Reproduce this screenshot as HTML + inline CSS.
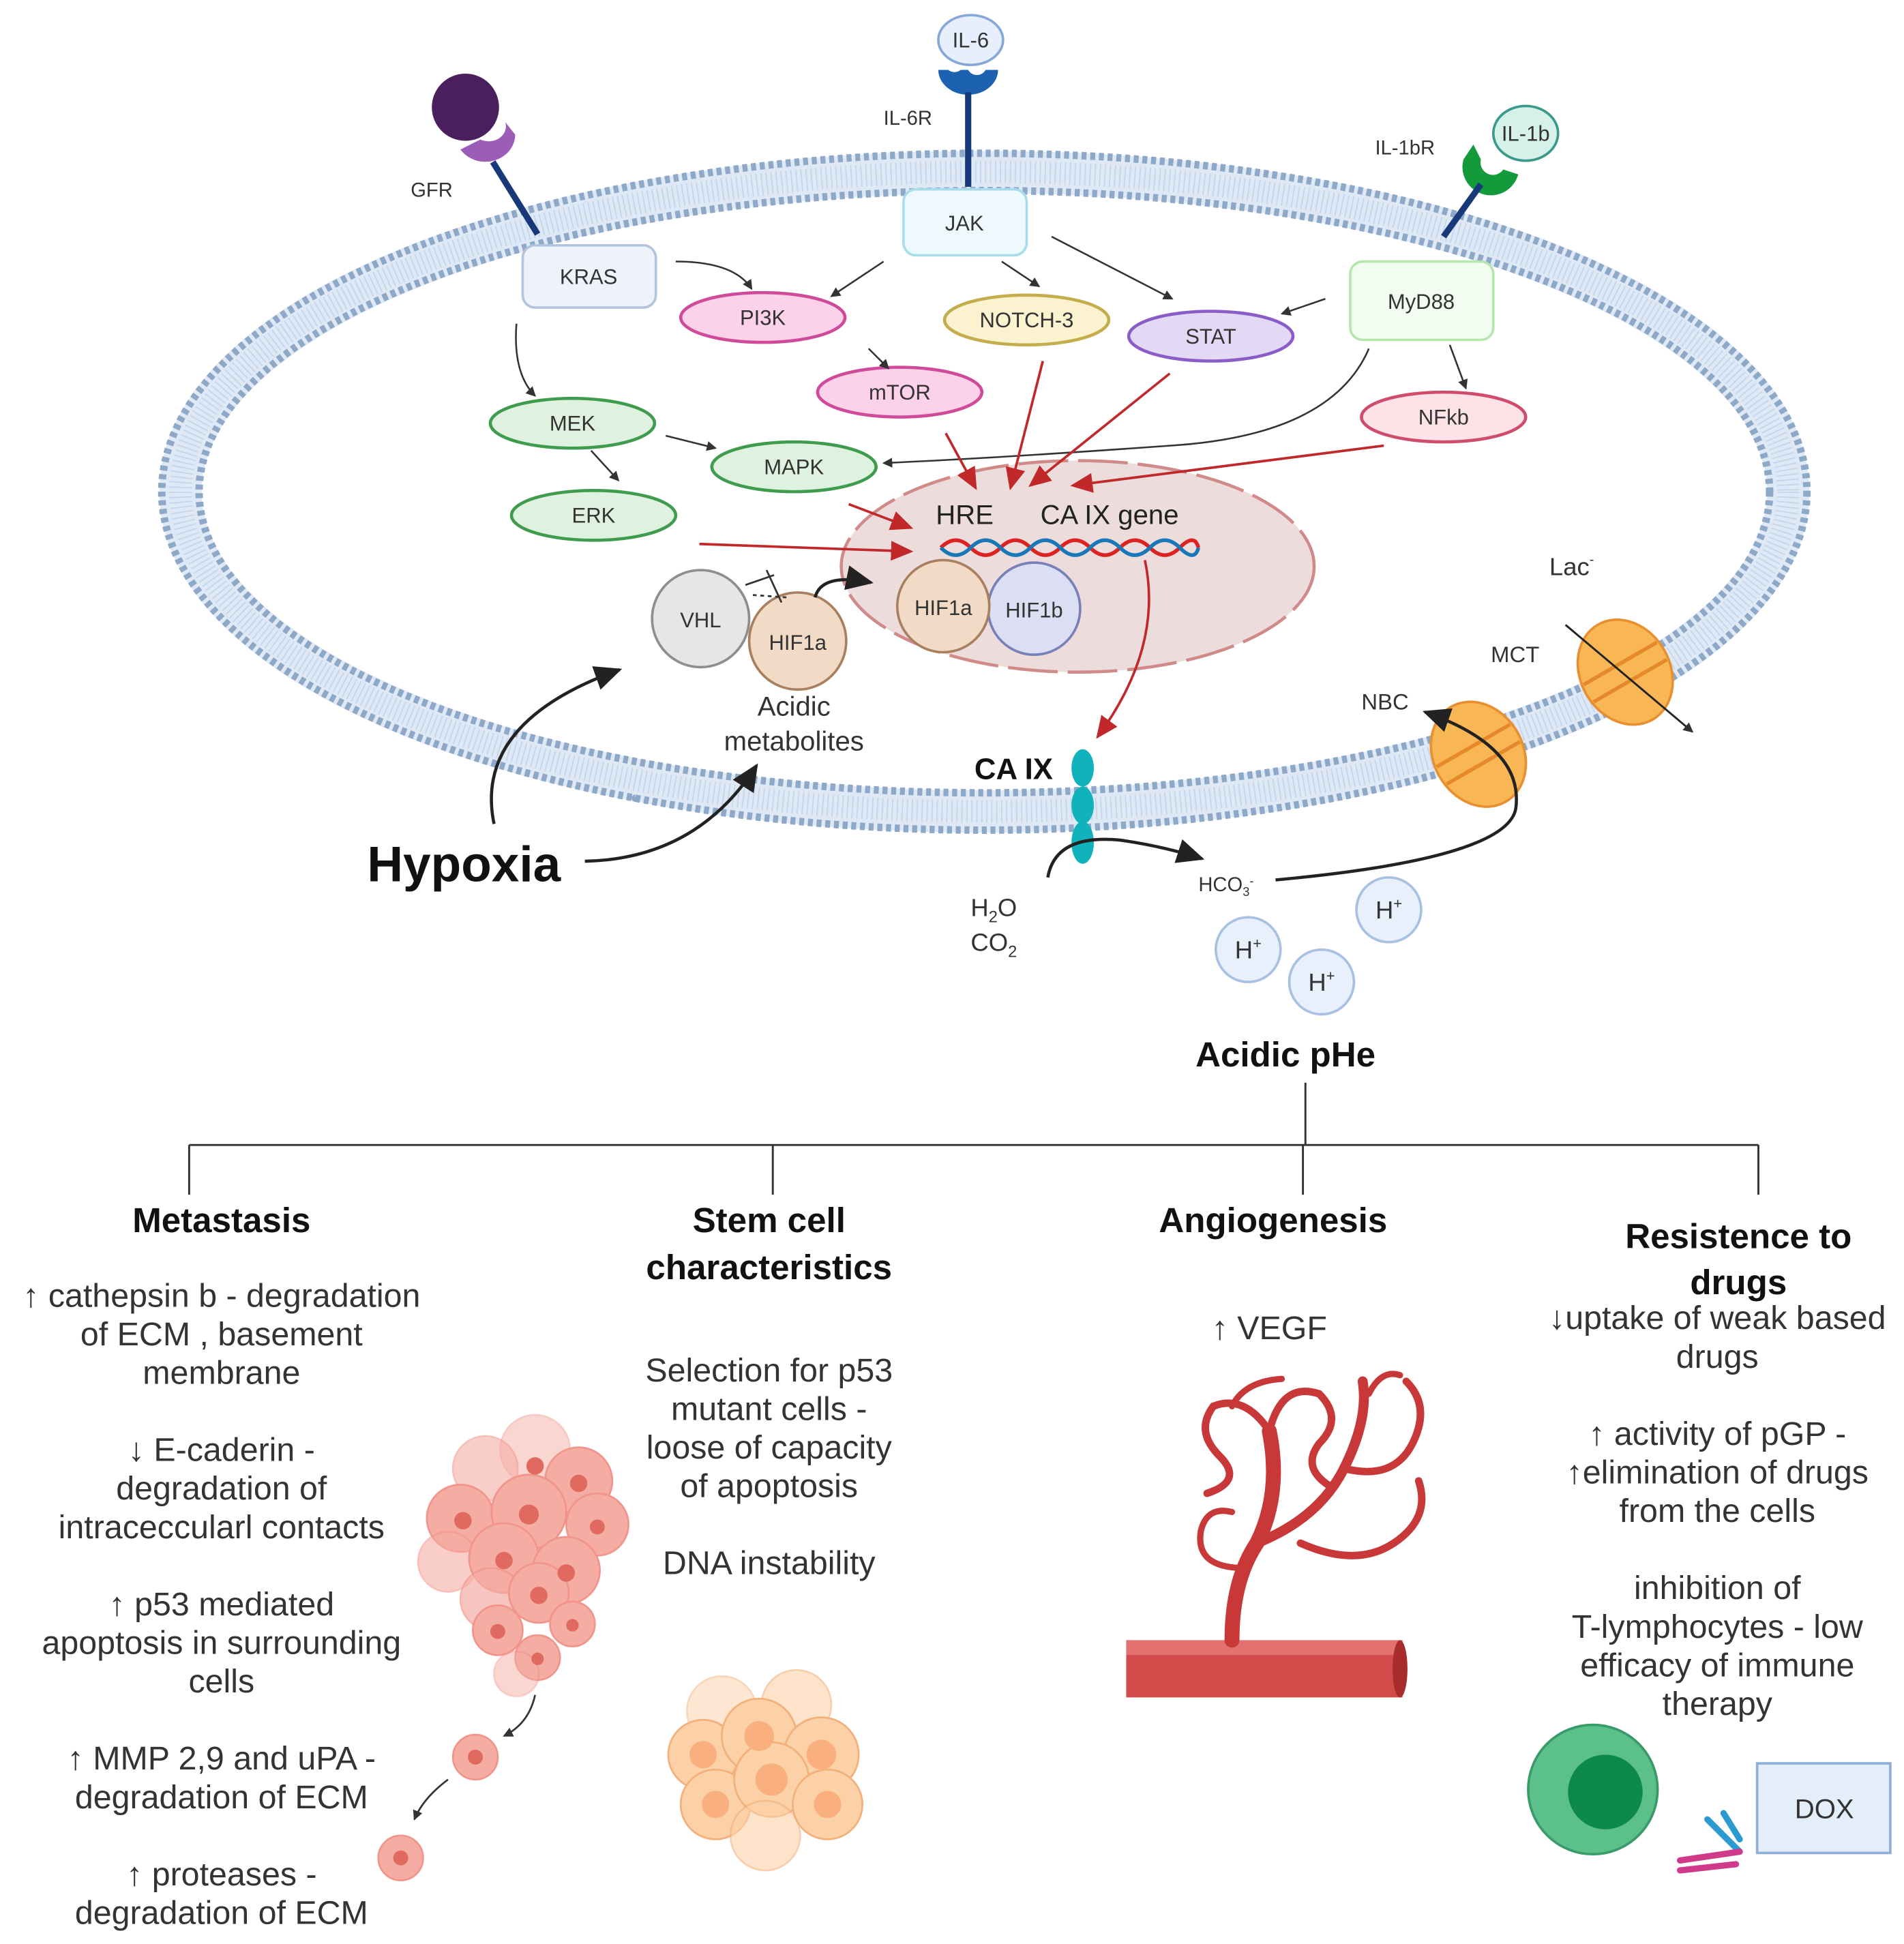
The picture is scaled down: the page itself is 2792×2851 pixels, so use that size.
<!DOCTYPE html>
<html><head><meta charset="utf-8"><style>
html,body{margin:0;padding:0;background:#fff}
svg{display:block}
text{font-family:"Liberation Sans",sans-serif;fill:#333}
</style></head><body>
<svg width="2792" height="2851" viewBox="0 0 1530 1562" xmlns="http://www.w3.org/2000/svg">
<defs>
<marker id="ab" markerWidth="8" markerHeight="8" refX="7" refY="4" orient="auto" markerUnits="userSpaceOnUse"><path d="M0,0 L8,4 L0,8 z" fill="#333"/></marker>
<marker id="ar" markerWidth="18" markerHeight="16" refX="16" refY="8" orient="auto" markerUnits="userSpaceOnUse"><path d="M0,0 L18,8 L0,16 z" fill="#c0282a"/></marker>
<marker id="abig" markerWidth="22" markerHeight="20" refX="20" refY="10" orient="auto" markerUnits="userSpaceOnUse"><path d="M0,0 L22,10 L0,20 z" fill="#222"/></marker>
</defs>

<!-- membrane -->
<ellipse cx="791" cy="395" rx="646" ry="257" fill="none" stroke="#dfe8f5" stroke-width="34"/>
<ellipse cx="791" cy="395" rx="646" ry="257" fill="none" stroke="#c6d5ea" stroke-width="18" stroke-dasharray="1 3"/>
<ellipse cx="791" cy="395" rx="661" ry="272" fill="none" stroke="#8ea8c8" stroke-width="6" stroke-dasharray="4 3"/>
<ellipse cx="791" cy="395" rx="631" ry="242" fill="none" stroke="#8ea8c8" stroke-width="6" stroke-dasharray="4 3"/>

<!-- nucleus -->
<ellipse cx="866" cy="455" rx="190" ry="85" fill="#eddcdc" stroke="#d08a8a" stroke-width="2.5" stroke-dasharray="40 8"/>

<!-- receptors -->
<circle cx="374" cy="86" r="27" fill="#4a1f5e"/>
<path d="M370,120 a24,22 0 0 0 44,-12 l-8,-10 a14,12 0 0 1 -20,14 z" fill="#9b5db8"/>
<line x1="396" y1="130" x2="432" y2="188" stroke="#17397a" stroke-width="5"/>
<text x="330" y="158" font-size="16">GFR</text>

<ellipse cx="780" cy="32" rx="26" ry="20" fill="#e6effb" stroke="#86a8d8" stroke-width="2"/>
<text x="780" y="38" font-size="17" text-anchor="middle">IL-6</text>
<path d="M754,56 a24,20 0 0 0 48,0 l-10,0 a8,8 0 0 1 -14,0 l-6,0 a8,8 0 0 1 -10,0 z" fill="#1d62b0"/>
<line x1="778" y1="74" x2="778" y2="150" stroke="#17397a" stroke-width="5"/>
<text x="710" y="100" font-size="16">IL-6R</text>

<ellipse cx="1226" cy="107" rx="26" ry="22" fill="#d6f1ea" stroke="#3a9a8a" stroke-width="2"/>
<text x="1226" y="113" font-size="17" text-anchor="middle">IL-1b</text>
<path d="M1176,128 a22,22 0 0 0 44,12 l-12,-4 a10,10 0 0 1 -18,-8 l-6,-12 z" fill="#139a3a"/>
<line x1="1190" y1="148" x2="1160" y2="190" stroke="#17397a" stroke-width="5"/>
<text x="1105" y="124" font-size="16">IL-1bR</text>

<!-- boxes -->
<rect x="420" y="197" width="107" height="50" rx="10" fill="#eef2fa" stroke="#b4c4de" stroke-width="2"/>
<text x="473" y="228" font-size="17" text-anchor="middle">KRAS</text>
<rect x="726" y="152" width="99" height="53" rx="10" fill="#eef9fd" stroke="#a9dcea" stroke-width="2"/>
<text x="775" y="185" font-size="17" text-anchor="middle">JAK</text>
<rect x="1085" y="210" width="115" height="63" rx="10" fill="#f3fcf0" stroke="#b6e6ae" stroke-width="2"/>
<text x="1142" y="248" font-size="17" text-anchor="middle">MyD88</text>

<!-- ovals -->
<g stroke-width="2.5" font-size="17">
<ellipse cx="613" cy="255" rx="66" ry="20" fill="#fbd2ea" stroke="#d04a9a"/>
<ellipse cx="825" cy="257" rx="66" ry="20" fill="#fbf3cf" stroke="#c4ad4c"/>
<ellipse cx="973" cy="270" rx="66" ry="20" fill="#e3d9f5" stroke="#8a5cc8"/>
<ellipse cx="723" cy="315" rx="66" ry="20" fill="#fbd2ea" stroke="#d04a9a"/>
<ellipse cx="1160" cy="335" rx="66" ry="20" fill="#fde3e7" stroke="#d04c6c"/>
<ellipse cx="460" cy="340" rx="66" ry="20" fill="#dff2df" stroke="#3f9c4e"/>
<ellipse cx="638" cy="375" rx="66" ry="20" fill="#dff2df" stroke="#3f9c4e"/>
<ellipse cx="477" cy="414" rx="66" ry="20" fill="#dff2df" stroke="#3f9c4e"/>
</g>
<g font-size="17" text-anchor="middle">
<text x="613" y="261">PI3K</text><text x="825" y="263">NOTCH-3</text><text x="973" y="276">STAT</text>
<text x="723" y="321">mTOR</text><text x="1160" y="341">NFkb</text><text x="460" y="346">MEK</text>
<text x="638" y="381">MAPK</text><text x="477" y="420">ERK</text>
</g>

<!-- black small arrows -->
<g stroke="#333" stroke-width="1.4" fill="none" marker-end="url(#ab)">
<path d="M543,210 Q590,210 604,232"/>
<path d="M710,210 L668,238"/>
<path d="M805,210 L835,230"/>
<path d="M845,190 L942,240"/>
<path d="M1065,240 L1030,252"/>
<path d="M1165,277 L1178,312"/>
<path d="M415,260 Q412,300 430,318"/>
<path d="M535,350 L575,360"/>
<path d="M475,362 L497,386"/>
<path d="M698,280 L714,296"/>
<path d="M1100,280 Q1070,350 940,358 Q800,368 710,372"/>
</g>

<!-- red arrows -->
<g stroke="#c0282a" stroke-width="2" fill="none" marker-end="url(#ar)">
<path d="M760,348 L784,392"/>
<path d="M838,290 L812,392"/>
<path d="M940,300 L828,390"/>
<path d="M1112,358 L862,390"/>
<path d="M682,405 L732,424"/>
<path d="M562,437 L732,443"/>
<path d="M920,450 Q935,520 882,592"/>
</g>

<!-- DNA -->
<text x="752" y="421" font-size="22" style="fill:#222">HRE</text>
<text x="836" y="421" font-size="22" style="fill:#222">CA IX gene</text>
<path d="M756,440 q12,-12 24,0 t24,0 t24,0 t24,0 t24,0 t24,0 t24,0 t24,0 t15,0" fill="none" stroke="#d22" stroke-width="3"/>
<path d="M756,440 q12,12 24,0 t24,0 t24,0 t24,0 t24,0 t24,0 t24,0 t24,0 t15,0" fill="none" stroke="#1b78b8" stroke-width="3"/>

<!-- HIF -->
<circle cx="563" cy="497" r="39" fill="#e6e6e6" stroke="#8e8e8e" stroke-width="2"/>
<text x="563" y="504" font-size="17" text-anchor="middle">VHL</text>
<circle cx="641" cy="515" r="39" fill="#f2dbc6" stroke="#a88060" stroke-width="2"/>
<text x="641" y="522" font-size="17" text-anchor="middle">HIF1a</text>
<circle cx="831" cy="489" r="37" fill="#dcdff3" stroke="#7880b8" stroke-width="2"/>
<text x="831" y="496" font-size="17" text-anchor="middle">HIF1b</text>
<circle cx="758" cy="487" r="37" fill="#f2dbc6" stroke="#a88060" stroke-width="2"/>
<text x="758" y="494" font-size="17" text-anchor="middle">HIF1a</text>
<path d="M605,478 L633,480" stroke="#333" stroke-width="1.5" stroke-dasharray="3 3"/>
<path d="M616,458 L628,484" stroke="#333" stroke-width="1.5"/>
<path d="M599,470 L622,462" stroke="#333" stroke-width="1.5"/>
<path d="M655,480 Q660,460 700,468" stroke="#222" stroke-width="2.5" fill="none" marker-end="url(#abig)"/>

<text x="638" y="575" font-size="22" text-anchor="middle">Acidic</text>
<text x="638" y="603" font-size="22" text-anchor="middle">metabolites</text>

<!-- Hypoxia -->
<text x="295" y="708" font-size="40" font-weight="bold" style="fill:#111">Hypoxia</text>
<g stroke="#222" stroke-width="2.5" fill="none" marker-end="url(#abig)">
<path d="M397,662 Q380,580 498,538"/>
<path d="M470,692 Q560,690 608,615"/>
</g>

<!-- CA IX -->
<text x="783" y="626" font-size="24" font-weight="bold" style="fill:#111">CA IX</text>
<g fill="#10b2bc"><ellipse cx="870" cy="617" rx="9" ry="15"/><ellipse cx="870" cy="647" rx="9" ry="15"/><ellipse cx="870" cy="677" rx="9" ry="17"/></g>
<path d="M842,705 Q848,670 900,675 Q935,680 966,690" stroke="#222" stroke-width="2.5" fill="none" marker-end="url(#abig)"/>
<text x="780" y="736" font-size="20">H<tspan font-size="13" dy="5">2</tspan><tspan dy="-5">O</tspan></text>
<text x="780" y="764" font-size="20">CO<tspan font-size="13" dy="5">2</tspan></text>
<text x="963" y="716" font-size="16">HCO<tspan font-size="10" dy="4">3</tspan><tspan font-size="10" dy="-9">-</tspan></text>

<!-- transporters -->
<g transform="translate(1188,606) rotate(-30)"><ellipse cx="0" cy="0" rx="36" ry="44" fill="#f9b654" stroke="#e89030" stroke-width="2"/><line x1="-34" y1="-8" x2="34" y2="-8" stroke="#e5892a" stroke-width="3"/><line x1="-34" y1="8" x2="34" y2="8" stroke="#e5892a" stroke-width="3"/></g>
<g transform="translate(1306,540) rotate(-30)"><ellipse cx="0" cy="0" rx="36" ry="44" fill="#f9b654" stroke="#e89030" stroke-width="2"/><line x1="-34" y1="-8" x2="34" y2="-8" stroke="#e5892a" stroke-width="3"/><line x1="-34" y1="8" x2="34" y2="8" stroke="#e5892a" stroke-width="3"/></g>
<path d="M1025,707 Q1210,690 1218,650 Q1225,600 1145,572" stroke="#222" stroke-width="2.5" fill="none" marker-end="url(#abig)"/>
<path d="M1258,502 L1360,588" stroke="#222" stroke-width="1.6" marker-end="url(#ab)"/>
<text x="1245" y="462" font-size="20">Lac<tspan font-size="11" dy="-9">-</tspan></text>
<text x="1198" y="532" font-size="18">MCT</text>
<text x="1094" y="570" font-size="18">NBC</text>

<!-- H+ -->
<g fill="#e8f0fb" stroke="#a8c0e2" stroke-width="2">
<circle cx="1003" cy="763" r="26"/><circle cx="1062" cy="789" r="26"/><circle cx="1116" cy="731" r="26"/></g>
<g font-size="20" text-anchor="middle">
<text x="1003" y="770">H<tspan font-size="12" dy="-8">+</tspan></text>
<text x="1062" y="796">H<tspan font-size="12" dy="-8">+</tspan></text>
<text x="1116" y="738">H<tspan font-size="12" dy="-8">+</tspan></text></g>
<text x="1033" y="857" font-size="28" font-weight="bold" text-anchor="middle" style="fill:#111">Acidic pHe</text>

<!-- tree -->
<g stroke="#333" stroke-width="1.6" fill="none">
<path d="M1049,870 V920 M152,920 H1413 M152,920 V960 M621,920 V960 M1047,920 V960 M1413,920 V960"/></g>

<!-- headings -->
<g font-size="28" font-weight="bold" text-anchor="middle">
<text x="178" y="990" style="fill:#111">Metastasis</text>
<text x="618" y="990" style="fill:#111">Stem cell</text>
<text x="618" y="1028" style="fill:#111">characteristics</text>
<text x="1023" y="990" style="fill:#111">Angiogenesis</text>
<text x="1397" y="1003" style="fill:#111">Resistence to</text>
<text x="1397" y="1040" style="fill:#111">drugs</text>
</g>

<g font-size="26.5" text-anchor="middle">
<text x="178" y="1050">↑ cathepsin b - degradation</text>
<text x="178" y="1081">of ECM , basement</text>
<text x="178" y="1112">membrane</text>
<text x="178" y="1174">↓ E-caderin -</text>
<text x="178" y="1205">degradation of</text>
<text x="178" y="1236">intraceccularl contacts</text>
<text x="178" y="1298">↑ p53 mediated</text>
<text x="178" y="1329">apoptosis in surrounding</text>
<text x="178" y="1360">cells</text>
<text x="178" y="1422">↑ MMP 2,9 and uPA -</text>
<text x="178" y="1453">degradation of ECM</text>
<text x="178" y="1515">↑ proteases -</text>
<text x="178" y="1546">degradation of ECM</text>

<text x="618" y="1110">Selection for p53</text>
<text x="618" y="1141">mutant cells -</text>
<text x="618" y="1172">loose of capacity</text>
<text x="618" y="1203">of apoptosis</text>
<text x="618" y="1265">DNA instability</text>

<text x="1020" y="1076">↑ VEGF</text>

<text x="1380" y="1068">↓uptake of weak based</text>
<text x="1380" y="1099">drugs</text>
<text x="1380" y="1161">↑ activity of pGP -</text>
<text x="1380" y="1192">↑elimination of drugs</text>
<text x="1380" y="1223">from the cells</text>
<text x="1380" y="1285">inhibition of</text>
<text x="1380" y="1316">T-lymphocytes - low</text>
<text x="1380" y="1347">efficacy of immune</text>
<text x="1380" y="1378">therapy</text>
</g>

<!-- tumor cluster -->
<g fill="#f4a49a" stroke="#f08a80" stroke-width="1.5" opacity="0.9">
<circle cx="430" cy="1165" r="28" opacity="0.5"/><circle cx="390" cy="1180" r="26" opacity="0.6"/><circle cx="465" cy="1190" r="27"/>
<circle cx="370" cy="1220" r="27"/><circle cx="425" cy="1215" r="30"/><circle cx="480" cy="1225" r="25"/>
<circle cx="360" cy="1255" r="24" opacity="0.6"/><circle cx="405" cy="1252" r="28"/><circle cx="455" cy="1262" r="27"/>
<circle cx="395" cy="1285" r="25" opacity="0.7"/><circle cx="433" cy="1280" r="24"/><circle cx="400" cy="1310" r="20"/>
<circle cx="460" cy="1305" r="18"/><circle cx="432" cy="1332" r="18"/><circle cx="415" cy="1345" r="18" opacity="0.5"/>
<circle cx="382" cy="1412" r="18"/><circle cx="322" cy="1493" r="18"/>
</g>
<g fill="#e06a60"><circle cx="430" cy="1178" r="7"/><circle cx="465" cy="1192" r="7"/><circle cx="372" cy="1222" r="7"/><circle cx="425" cy="1217" r="8"/><circle cx="480" cy="1227" r="6"/><circle cx="405" cy="1254" r="7"/><circle cx="455" cy="1264" r="7"/><circle cx="433" cy="1282" r="7"/><circle cx="400" cy="1311" r="6"/><circle cx="460" cy="1306" r="5"/><circle cx="432" cy="1333" r="5"/><circle cx="382" cy="1412" r="6"/><circle cx="322" cy="1493" r="6"/></g>
<g stroke="#333" stroke-width="1.5" fill="none" marker-end="url(#ab)"><path d="M430,1362 Q425,1385 405,1395"/><path d="M360,1430 Q340,1445 333,1462"/></g>

<!-- stem cells -->
<g fill="#fcd1a8" stroke="#f3b07a" stroke-width="1.5">
<circle cx="580" cy="1375" r="28" opacity="0.5"/><circle cx="640" cy="1370" r="28" opacity="0.6"/><circle cx="565" cy="1410" r="28"/><circle cx="610" cy="1395" r="30"/><circle cx="660" cy="1410" r="30"/><circle cx="575" cy="1450" r="28"/><circle cx="620" cy="1430" r="30"/><circle cx="665" cy="1450" r="28"/><circle cx="615" cy="1475" r="28" opacity="0.6"/>
</g>
<g fill="#f9b07e"><circle cx="565" cy="1410" r="11"/><circle cx="610" cy="1395" r="12"/><circle cx="660" cy="1410" r="12"/><circle cx="575" cy="1450" r="11"/><circle cx="620" cy="1430" r="13"/><circle cx="665" cy="1450" r="11"/></g>

<!-- vessel -->
<rect x="905" y="1318" width="222" height="46" fill="#d24a4a"/>
<rect x="905" y="1318" width="222" height="12" fill="#e57070"/>
<ellipse cx="1125" cy="1341" rx="6" ry="23" fill="#a82c2c"/>
<g stroke="#c83838" fill="none" stroke-linecap="round">
<path d="M990,1318 Q990,1270 1010,1240 Q1030,1200 1020,1150" stroke-width="12"/>
<path d="M1010,1240 Q1060,1220 1080,1180 Q1100,1140 1095,1110" stroke-width="8"/>
<path d="M1020,1150 Q1000,1120 975,1130 Q960,1150 980,1170 Q1000,1190 970,1200" stroke-width="6"/>
<path d="M1020,1150 Q1030,1110 1060,1120 Q1080,1140 1060,1160 Q1045,1180 1070,1195" stroke-width="6"/>
<path d="M1080,1180 Q1120,1190 1135,1160 Q1150,1130 1130,1110" stroke-width="6"/>
<path d="M1045,1240 Q1090,1260 1120,1240 Q1150,1220 1140,1190" stroke-width="6"/>
<path d="M1000,1260 Q960,1260 965,1230 Q970,1210 990,1215" stroke-width="5"/>
<path d="M990,1130 Q1000,1110 1030,1108" stroke-width="5"/>
<path d="M1100,1120 Q1110,1100 1125,1105" stroke-width="5"/>
</g>

<!-- T cell, antibody, DOX -->
<circle cx="1280" cy="1438" r="52" fill="#5cc08a" stroke="#3a9a68" stroke-width="2"/>
<circle cx="1290" cy="1440" r="30" fill="#0d8a4a"/>
<g stroke-width="5" fill="none" stroke-linecap="round">
<path d="M1372,1462 L1398,1488" stroke="#2a9ad0"/><path d="M1385,1457 L1398,1478" stroke="#2a9ad0"/>
<path d="M1398,1488 L1350,1495" stroke="#d03a8a"/><path d="M1395,1498 L1350,1503" stroke="#d03a8a"/></g>
<rect x="1412" y="1417" width="107" height="72" fill="#e4edfa" stroke="#8eb0d8" stroke-width="2"/>
<text x="1466" y="1461" font-size="22" text-anchor="middle">DOX</text>
</svg>
</body></html>
